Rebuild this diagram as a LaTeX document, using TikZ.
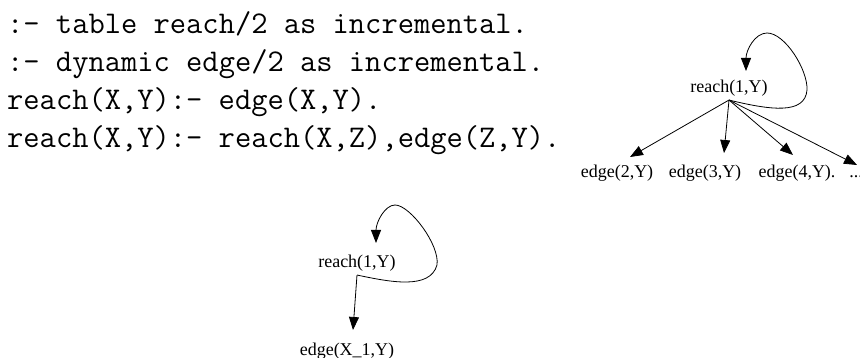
\documentclass[tikz,border=0pt]{standalone}
\usepackage{fontspec}
\newfontfamily\gvfont{Liberation Serif}
\usetikzlibrary{arrows.meta}
\begin{document}
\begin{tikzpicture}[x=1pt,y=-1pt,
  code/.style={anchor=base west,inner sep=0pt,font=\fontsize{31.6}{38}\selectfont\ttfamily},
  gv/.style={anchor=base,inner sep=0pt,font=\fontsize{18}{20}\selectfont\gvfont},
  gvr/.style={anchor=base,inner sep=3pt,font=\fontsize{18}{20}\selectfont\gvfont},
  arr/.style={draw,line width=0.8pt,-{Triangle[length=13pt,width=10pt]}}]
\useasboundingbox (0,0) rectangle (860,358);
% code
\node[code] (l1) at (7,33.5) {:- table reach/2 as incremental.};
\node[code] (l2) at (7,71.5) {:- dynamic edge/2 as incremental.};
\node[code] (l3) at (7,109.5) {reach(X,Y):- edge(X,Y).};
\node[code] (l4) at (7,147.5) {reach(X,Y):- reach(X,Z),edge(Z,Y).};
% top graph
\node[gvr] (r1) at (729,93) {reach(1,Y)};
\node[gv] (e2) at (617,178) {edge(2,Y)};
\node[gv] (e3) at (705,178) {edge(3,Y)};
\node[gv] (e4) at (797,178) {edge(4,Y).};
\node[gv] (e5) at (856,178) {...};
\coordinate (t2) at (630,157);
\coordinate (t3) at (724,153);
\coordinate (t4) at (793,155);
\coordinate (t5) at (857,165);
\coordinate (t1) at (746,71);
\draw[arr] (r1.south) -- (t2);
\draw[arr] (r1.south) -- (t3);
\draw[arr] (r1.south) -- (t4);
\draw[arr] (r1.south) -- (t5);
\draw[arr] (r1.south) .. controls (770,110) and (805,115) .. (807,90)
  .. controls (808,70) and (785,33) .. (767,33)
  .. controls (755,33) and (746,50) .. (t1);
% bottom graph
\node[gvr] (r2) at (357,268) {reach(1,Y)};
\node[gv] (ex) at (347,355) {edge(X\_1,Y)};
\coordinate (tx) at (353,330);
\coordinate (tl) at (376,243);
\draw[arr] (r2.south) -- (tx);
\draw[arr] (r2.south) .. controls (390,282) and (430,290) .. (437,265)
  .. controls (440,245) and (410,205) .. (395,205)
  .. controls (385,205) and (376,222) .. (tl);
\end{tikzpicture}
\end{document}
